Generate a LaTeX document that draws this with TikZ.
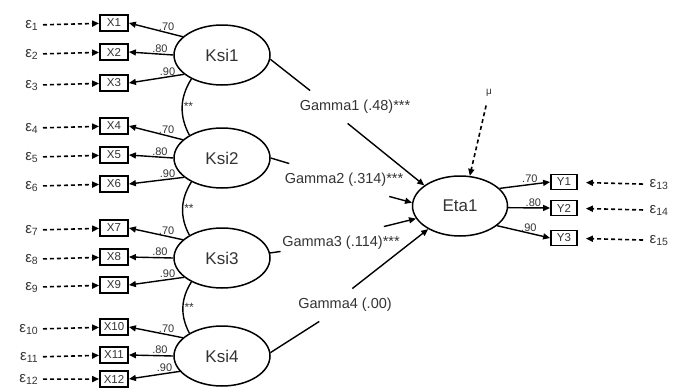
\documentclass[tikz,border=0pt]{standalone}
\usepackage{fontspec}
\setmainfont{Liberation Sans}
\usetikzlibrary{arrows.meta, shapes.geometric}

\begin{document}
\begin{tikzpicture}[x=1pt, y=-1pt, line width=1.4pt,
    every node/.style={text=black!80},
    lat/.style={draw, ellipse, line width=1.5pt, minimum width=96pt, minimum height=60pt, font=\fontsize{17}{19}\selectfont},
    ind/.style={draw, line width=1.8pt, minimum width=28pt, minimum height=16pt, inner sep=0pt, font=\fontsize{11.5}{12}\selectfont},
    err/.style={font=\fontsize{15}{16}\selectfont, inner sep=1pt},
    lab/.style={font=\fontsize{11}{12}\selectfont, inner sep=1pt, above},
    gam/.style={font=\fontsize{14.5}{16}\selectfont, inner xsep=1pt, inner ysep=9pt},
    star/.style={font=\fontsize{12}{12}\selectfont, inner sep=1pt, right},
    ldarr/.style={-{Triangle[length=7pt, width=6pt]}},
    errarr/.style={line width=1.6pt, dash pattern=on 4pt off 3pt, -{Triangle[length=7pt, width=6pt]}}]
            \useasboundingbox (0,0) rectangle (682,388);

            % latent variables
            \node[lat] (ksi1) at (222,55) {Ksi1};
            \node[lat] (ksi2) at (222,158) {Ksi2};
            \node[lat] (ksi3) at (222,258) {Ksi3};
            \node[lat] (ksi4) at (222,356) {Ksi4};
            \node[lat, minimum width=95pt] (eta) at (460,206) {Eta1};

            % indicators
            \node[ind] (x1) at (114,23) {X1};
            \node[ind] (x2) at (114,52) {X2};
            \node[ind] (x3) at (114,83) {X3};
            \node[ind] (x4) at (114,126) {X4};
            \node[ind] (x5) at (114,155) {X5};
            \node[ind] (x6) at (114,184) {X6};
            \node[ind] (x7) at (114,228) {X7};
            \node[ind] (x8) at (114,257) {X8};
            \node[ind] (x9) at (114,285) {X9};
            \node[ind] (x10) at (114,327) {X10};
            \node[ind] (x11) at (114,355) {X11};
            \node[ind] (x12) at (114,379) {X12};
            \node[ind, minimum width=26pt, minimum height=15pt] (y1) at (564,182) {Y1};
            \node[ind, minimum width=26pt, minimum height=15pt] (y2) at (564,208) {Y2};
            \node[ind, minimum width=26pt, minimum height=15pt] (y3) at (564,238) {Y3};

            % errors
            \node[err, anchor=base east] (e1) at (40,28) {ε\textsubscript{1}};
            \node[err, anchor=base east] (e2) at (40,57) {ε\textsubscript{2}};
            \node[err, anchor=base east] (e3) at (40,88) {ε\textsubscript{3}};
            \node[err, anchor=base east] (e4) at (40,131) {ε\textsubscript{4}};
            \node[err, anchor=base east] (e5) at (40,160) {ε\textsubscript{5}};
            \node[err, anchor=base east] (e6) at (40,189) {ε\textsubscript{6}};
            \node[err, anchor=base east] (e7) at (40,233) {ε\textsubscript{7}};
            \node[err, anchor=base east] (e8) at (40,262) {ε\textsubscript{8}};
            \node[err, anchor=base east] (e9) at (40,290) {ε\textsubscript{9}};
            \node[err, anchor=base east] (e10) at (40,332) {ε\textsubscript{10}};
            \node[err, anchor=base east] (e11) at (40,360) {ε\textsubscript{11}};
            \node[err, anchor=base east] (e12) at (40,382) {ε\textsubscript{12}};
            \node[err, anchor=base west] (e13) at (648,187) {ε\textsubscript{13}};
            \node[err, anchor=base west] (e14) at (648,213) {ε\textsubscript{14}};
            \node[err, anchor=base west] (e15) at (648,243) {ε\textsubscript{15}};
            \node[font=\fontsize{10}{11}\selectfont] (mu) at (489,93) {μ};

            \draw[errarr, shorten <=3pt] (e1) -- (x1);
            \draw[errarr, shorten <=3pt] (e2) -- (x2);
            \draw[errarr, shorten <=3pt] (e3) -- (x3);
            \draw[errarr, shorten <=3pt] (e4) -- (x4);
            \draw[errarr, shorten <=3pt] (e5) -- (x5);
            \draw[errarr, shorten <=3pt] (e6) -- (x6);
            \draw[errarr, shorten <=3pt] (e7) -- (x7);
            \draw[errarr, shorten <=3pt] (e8) -- (x8);
            \draw[errarr, shorten <=3pt] (e9) -- (x9);
            \draw[errarr, shorten <=3pt] (e10) -- (x10);
            \draw[errarr, shorten <=3pt] (e11) -- (x11);
            \draw[errarr, shorten <=3pt] (e12) -- (x12);
            \draw[errarr, shorten <=5pt, shorten >=8pt] (e13.west) -- (y1);
            \draw[errarr, shorten <=5pt, shorten >=8pt] (e14.west) -- (y2);
            \draw[errarr, shorten <=5pt, shorten >=8pt] (e15.west) -- (y3);
            \draw[errarr, shorten <=5pt] (mu) -- (eta.72);

            % loadings
            \draw[ldarr] (ksi1.155) -- node[lab, pos=0.3] {.70} (x1.east);
            \draw[ldarr] (ksi1.180) -- node[lab, pos=0.3] {.80} (x2.east);
            \draw[ldarr] (ksi1.207) -- node[lab, pos=0.3] {.90} (x3.east);
            \draw[ldarr] (ksi2.155) -- node[lab, pos=0.3] {.70} (x4.east);
            \draw[ldarr] (ksi2.180) -- node[lab, pos=0.3] {.80} (x5.east);
            \draw[ldarr] (ksi2.207) -- node[lab, pos=0.3] {.90} (x6.east);
            \draw[ldarr] (ksi3.155) -- node[lab, pos=0.3] {.70} (x7.east);
            \draw[ldarr] (ksi3.180) -- node[lab, pos=0.3] {.80} (x8.east);
            \draw[ldarr] (ksi3.207) -- node[lab, pos=0.3] {.90} (x9.east);
            \draw[ldarr] (ksi4.155) -- node[lab, pos=0.3] {.70} (x10.east);
            \draw[ldarr] (ksi4.180) -- node[lab, pos=0.3] {.80} (x11.east);
            \draw[ldarr] (ksi4.200) -- node[lab, pos=0.3] {.90} (x12.east);
            \draw[ldarr] (eta.24) -- node[lab, pos=0.6] {.70} (y1.west);
            \draw[ldarr] (eta.-2) -- node[lab, pos=0.6] {.80} (y2.west);
            \draw[ldarr] (eta.-28) -- node[lab, pos=0.6] {.90} (y3.west);

            % correlations
            \draw (ksi1.218) to[bend right=30] node[star] {**} (ksi2.145);
            \draw (ksi2.218) to[bend right=30] node[star] {**} (ksi3.145);
            \draw (ksi3.218) to[bend right=30] node[star] {**} (ksi4.145);

            % structural paths
            \node[gam] (g1) at (355,107) {Gamma1 (.48)***};
            \node[gam] (g2) at (344,180) {Gamma2 (.314)***};
            \node[gam] (g3) at (341,243) {Gamma3 (.114)***};
            \node[gam] (g4) at (345,305) {Gamma4 (.00)};

            \draw (ksi1.-5) -- ([xshift=12pt]g1.north west);
            \draw[ldarr] (g1.-114) -- (eta.150);
            \draw (ksi2.0) -- (g2);
            \draw[ldarr] (g2.-20) -- (eta.176);
            \draw (ksi3.6) -- (g3);
            \draw[ldarr] (g3.21) -- (eta.196);
            \draw (ksi4.4) -- (g4);
            \draw[ldarr] (g4.66) -- (eta.216);
\end{tikzpicture}
\end{document}
